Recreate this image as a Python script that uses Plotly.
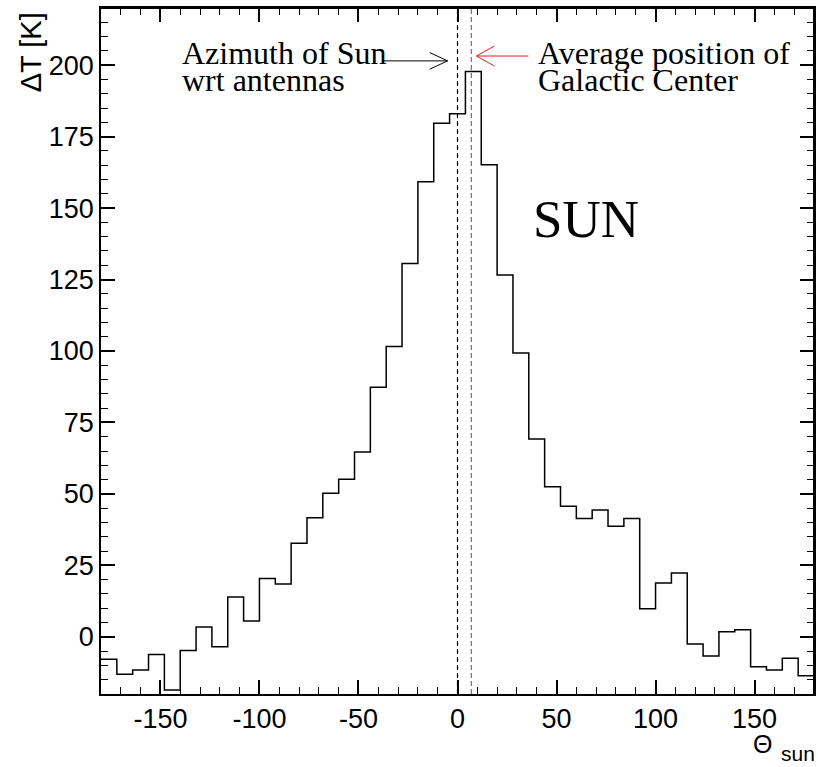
import plotly.graph_objects as go

# Histogram bins (left edges, degrees) and Delta T values [K]
bin_edges = [-180, -172, -164, -156, -148, -140, -132, -124, -116, -108, -100,
             -92, -84, -76, -68, -60, -52, -44, -36, -28, -20, -12, -4, 4, 12,
             20, 28, 36, 44, 52, 60, 68, 76, 84, 92, 100, 108, 116, 124, 132,
             140, 148, 156, 164, 172, 180]
delta_T = [-7.8, -13.1, -11.6, -6.2, -18.6, -4.8, 3.4, -3.5, 13.9, 5.5, 20.4,
           18.5, 32.7, 41.7, 50.2, 55.1, 64.7, 87.3, 101.6, 130.6, 159.2, 179.7,
           183.0, 197.8, 165.2, 126.6, 99.3, 69.2, 52.5, 45.7, 41.4, 44.4, 38.7,
           41.4, 9.8, 18.8, 22.3, -2.5, -6.7, 1.8, 2.5, -10.5, -11.6, -7.5, -13.6]

sun_azimuth = 0.0
gc_position = 7.0

x_ticks = [-150, -100, -50, 0, 50, 100, 150]
x_ticktext = ["-150", "-100", "-50", "0", "50", "100", "150"]
y_ticks = [0, 25, 50, 75, 100, 125, 150, 175, 200]
y_ticktext = ["0", "25", "50", "75", "100", "125", "150", "175", "200"]

fig = go.Figure()
fig.add_trace(go.Scatter(
    x=bin_edges, y=delta_T + [delta_T[-1]], mode="lines", line_shape="hv",
    line=dict(color="black", width=1.5), showlegend=False, hoverinfo="skip"))
# invisible helper trace on the minor-tick axes
fig.add_trace(go.Scatter(x=[bin_edges[0]], y=[delta_T[0]], xaxis="x2", yaxis="y2",
                         mode="markers", marker=dict(opacity=0), showlegend=False,
                         hoverinfo="skip"))

# frame (top and right edges)
fig.add_shape(type="line", xref="paper", yref="paper", x0=0, x1=1, y0=1, y1=1,
              line=dict(color="black", width=2))
fig.add_shape(type="line", xref="paper", yref="paper", x0=1, x1=1, y0=0, y1=1,
              line=dict(color="black", width=2))

# vertical dashed lines
fig.add_shape(type="line", x0=sun_azimuth, x1=sun_azimuth, y0=0, y1=1,
              xref="x", yref="paper", line=dict(color="black", width=1.2, dash="5px,3px"))
fig.add_shape(type="line", x0=gc_position, x1=gc_position, y0=0, y1=1,
              xref="x", yref="paper", line=dict(color="#d9406a", width=1.2, dash="5px,3px"))

# black arrow -> (towards the Sun azimuth line)
bk_tip, bk_y = -5.0, 201.5
fig.add_shape(type="line", x0=-38, x1=bk_tip, y0=bk_y, y1=bk_y,
              line=dict(color="black", width=1))
fig.add_shape(type="line", x0=bk_tip - 9, x1=bk_tip, y0=bk_y + 2.9, y1=bk_y,
              line=dict(color="black", width=1))
fig.add_shape(type="line", x0=bk_tip - 9, x1=bk_tip, y0=bk_y - 2.9, y1=bk_y,
              line=dict(color="black", width=1))

# red arrow <- (towards the Galactic Center line)
rd_tip, rd_y = 9.6, 203.2
fig.add_shape(type="line", x0=rd_tip, x1=35.8, y0=rd_y, y1=rd_y,
              line=dict(color="#e02020", width=1))
fig.add_shape(type="line", x0=rd_tip + 9, x1=rd_tip, y0=rd_y + 3.5, y1=rd_y,
              line=dict(color="#e02020", width=1))
fig.add_shape(type="line", x0=rd_tip + 9, x1=rd_tip, y0=rd_y - 3.5, y1=rd_y,
              line=dict(color="#e02020", width=1))

serif = "Liberation Serif"
sans = "Liberation Sans"
ann = [
    dict(text="Azimuth of Sun", x=-140.2, y=204.3, xanchor="left", size=32),
    dict(text="wrt antennas", x=-140.2, y=194.9, xanchor="left", size=32),
    dict(text="Average position of", x=39.7, y=204.3, xanchor="left", size=32),
    dict(text="Galactic Center", x=39.7, y=194.9, xanchor="left", size=32),
    dict(text="SUN", x=65.1, y=146.2, xanchor="center", size=53),
]
for a in ann:
    fig.add_annotation(text=a["text"], x=a["x"], y=a["y"], xref="x", yref="y",
                       xanchor=a["xanchor"], yanchor="middle", showarrow=False,
                       font=dict(family=serif, size=a["size"], color="black"))

# axis titles as annotations
fig.add_annotation(text="ΔT [K]", xref="paper", yref="paper", x=-0.099, y=0.936,
                   textangle=-90, showarrow=False, xanchor="center", yanchor="middle",
                   font=dict(family=sans, size=29, color="black"))
fig.add_annotation(text="Θ", xref="paper", yref="paper", x=0.928, y=-0.0736,
                   showarrow=False, xanchor="center", yanchor="middle",
                   font=dict(family=sans, size=25, color="black"))
fig.add_annotation(text="sun", xref="paper", yref="paper", x=0.978, y=-0.1064,
                   showarrow=False, xanchor="center", yanchor="bottom",
                   font=dict(family=sans, size=21, color="black"))

common = dict(showgrid=False, zeroline=False, showline=True, linecolor="#000000",
              linewidth=1.5, mirror="allticks", ticks="inside",
              tickcolor="#000000")

fig.update_layout(
    width=818, height=767, autosize=False,
    margin=dict(l=101, r=2, t=8, b=73),
    paper_bgcolor="white", plot_bgcolor="white",
    xaxis=dict(range=[-180, 180], tickmode="array", tickvals=x_ticks, ticktext=x_ticktext,
               ticklen=14, tickwidth=1.5,
               tickfont=dict(family=sans, size=27, color="black"), **common),
    yaxis=dict(range=[-20, 220], tickmode="array", tickvals=y_ticks, ticktext=y_ticktext,
               ticklen=14, tickwidth=1.5,
               tickfont=dict(family=sans, size=27, color="black"), **common),
    xaxis2=dict(range=[-180, 180], overlaying="x", side="top", anchor="y",
                tickmode="linear", tick0=0, dtick=10, ticklen=7, tickwidth=1.2,
                showticklabels=False, **common),
    yaxis2=dict(range=[-20, 220], overlaying="y", side="right", anchor="x",
                tickmode="linear", tick0=0, dtick=5, ticklen=7, tickwidth=1.2,
                showticklabels=False, **common),
)

fig.write_html("out.html")
